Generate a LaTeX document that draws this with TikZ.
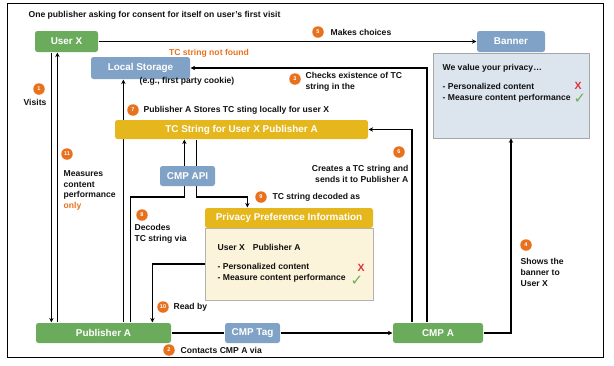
\documentclass[tikz,border=0pt]{standalone}
\usepackage{fontspec}
\setmainfont{Liberation Sans}
\newfontfamily\symfont{DejaVu Sans}
\usetikzlibrary{positioning, arrows.meta, calc}
\definecolor{figink}{HTML}{111111}
\definecolor{figgreen}{HTML}{6BAB5C}
\definecolor{figblue}{HTML}{7FA2C6}
\definecolor{figyellow}{HTML}{E5B71C}
\definecolor{figcream}{HTML}{FBF3DA}
\definecolor{figpale}{HTML}{DCE5EE}
\definecolor{figorange}{HTML}{E8711E}
\definecolor{figred}{HTML}{E0303A}
\definecolor{figcheck}{HTML}{6DB05E}

\begin{document}
\begin{tikzpicture}[
  x=1pt, y=-1pt,
  line width=1.2pt, line join=miter,
  >={Stealth[length=4.5pt, width=4.5pt]},
  box/.style  = {rounded corners=2.5pt, inner sep=0pt, text=white,
                 font=\fontsize{9.9}{11}\selectfont\bfseries, anchor=center},
  gbox/.style = {box, fill=figgreen},
  bbox/.style = {box, fill=figblue},
  ybox/.style = {box, fill=figyellow},
  pane/.style = {draw, line width=0.6pt, inner sep=0pt, anchor=center},
  num/.style  = {circle, fill=figorange, text=white, inner sep=0pt,
                 minimum size=11.5pt, font=\fontsize{5.5}{5.5}\selectfont\bfseries},
  lbl/.style  = {font=\fontsize{8.6}{10.7}\selectfont\bfseries, text=figink,
                 inner sep=0pt, align=left},
  nox/.style  = {text=figred, inner sep=0pt, font=\fontsize{10.5}{10.5}\selectfont\bfseries},
  yes/.style  = {text=figcheck, inner sep=0pt, font=\symfont\fontsize{15}{15}\selectfont}
]
\useasboundingbox (0,0) rectangle (614,365);
\draw[line width=0.9pt] (7,3) rectangle (603,357);

\node[lbl, anchor=west] (title) at (28,15) {One publisher asking for consent for itself on user's first visit};

% boxes
\node[gbox, minimum width=63pt, minimum height=21pt] (userx) at (66.5,41.5) {User X};
\node[bbox, minimum width=99pt, minimum height=22pt] (locst) at (140.5,68) {Local Storage};
\node[bbox, minimum width=68pt, minimum height=21pt] (banner) at (511,41.5) {Banner};
\node[pane, draw=gray!70, fill=figpale, minimum width=156pt, minimum height=85pt] (bbody) at (511,95.5) {};
\node[gbox, minimum width=135pt, minimum height=20pt] (puba) at (103.5,333) {Publisher A};
\node[bbox, minimum width=55pt, minimum height=20pt] (cmptag) at (252.5,333) {CMP Tag};
\node[gbox, minimum width=90pt, minimum height=20pt] (cmpa) at (438,333) {CMP A};
\node[pane, draw=gray!60, fill=figcream, minimum width=168pt, minimum height=72pt] (ppibody) at (289,264) {};
\node[ybox, minimum width=168pt, minimum height=20pt] (ppi) at (289,218) {Privacy Preference Information};

% user <-> publisher
\draw[->] ([xshift=16pt]puba.north west |- userx.south) -- ([xshift=16pt]puba.north west);
\draw[->] ([xshift=22pt]puba.north west) -- ([xshift=22pt]puba.north west |- userx.south);

% publisher -> cmp
\draw (puba.east) -- (cmptag.west);
\draw[->] (cmptag.east) -- (cmpa.west);
\draw[->] ([xshift=-11pt]cmpa.north) |- (locst.east);
\draw[->] (cmpa.east) -| (bbody.south);
\draw[->] (userx.east) -- (banner.west);

% store locally (runs behind the TC string bar)
\draw[->] ([xshift=88pt]puba.north west) -- ([xshift=88pt]puba.north west |- locst.south);
\node[ybox, minimum width=253pt, minimum height=19pt] (tcstr) at (241.5,129.5) {TC String for User X Publisher A};
\draw[->] ([xshift=-26pt]cmpa.north) |- (tcstr.east);

% decode via CMP API
\draw[->] ([xshift=95pt]puba.north west) |- ([xshift=70pt]tcstr.south west |- 0,197)
  -- ([xshift=70pt]tcstr.south west);
\draw[->] ([xshift=82pt]tcstr.south west) |- ([xshift=43pt]ppi.north west |- 0,197)
  -- ([xshift=43pt]ppi.north west);
\node[bbox, minimum width=55pt, minimum height=20pt] (cmpapi) at (187.5,176) {CMP API};
\draw[->] (ppibody.west) -| ([xshift=117pt]puba.north west);

% step numbers
\node[num] (n1) at (39,89) {1};
\node[num] (n2) at (169,350) {2};
\node[num] (n3) at (295,79) {3};
\node[num] (n4) at (526,245) {4};
\node[num] (n5) at (318,32) {5};
\node[num] (n6) at (399,152) {6};
\node[num] (n7) at (133,110) {7};
\node[num] (n8) at (142,215) {8};
\node[num] (n9) at (261,197) {9};
\node[num] (n10) at (163,307) {10};
\node[num] (n11) at (67,154) {11};

% step texts
\node[lbl, anchor=north] (t1) at (35,99) {Visits};
\node[lbl, anchor=west] (t2) at (180,350) {Contacts CMP A via};
\node[lbl, anchor=north west] (t3) at (305,72) {Checks existence of TC\\string in the};
\node[lbl, anchor=north west] (t4) at (520,258) {Shows the\\banner to\\User X};
\node[lbl, anchor=west] (t5) at (330,32) {Makes choices};
\node[lbl, anchor=north east, align=right] (t6) at (409,165) {Creates a TC string and\\sends it to Publisher A};
\node[lbl, anchor=west] (t7) at (143,110) {Publisher A Stores TC sting locally for user X};
\node[lbl, anchor=north west] (t8) at (134,224) {Decodes\\TC string via};
\node[lbl, anchor=west] (t9) at (272,197) {TC string decoded as};
\node[lbl, anchor=west] (t10) at (173,307) {Read by};
\node[lbl, anchor=north west] (t11) at (63,170) {Measures\\content\\performance\\\textcolor{figorange}{only}};
\node[lbl, text=figorange] (notfound) at (209,53) {TC string not found};
\node[lbl] (cookie) at (187,81) {(e.g., first party cookie)};

% banner content
\node[lbl, anchor=west] (bhead) at (442,68) {We value your privacy…};
\node[lbl, anchor=north west] (blist) at (442,83) {- Personalized content\\- Measure content performance};
\node[nox] (bno) at (578,86) {X};
\node[yes] (byes) at (580,99) {✓};

% preference content
\node[lbl, anchor=west] (phead) at (217,247) {User X\hspace{8pt}Publisher A};
\node[lbl, anchor=north west] (plist) at (217,263) {- Personalized content\\- Measure content performance};
\node[nox] (pno) at (361,268) {X};
\node[yes] (pyes) at (357,281) {✓};

\end{tikzpicture}
\end{document}
